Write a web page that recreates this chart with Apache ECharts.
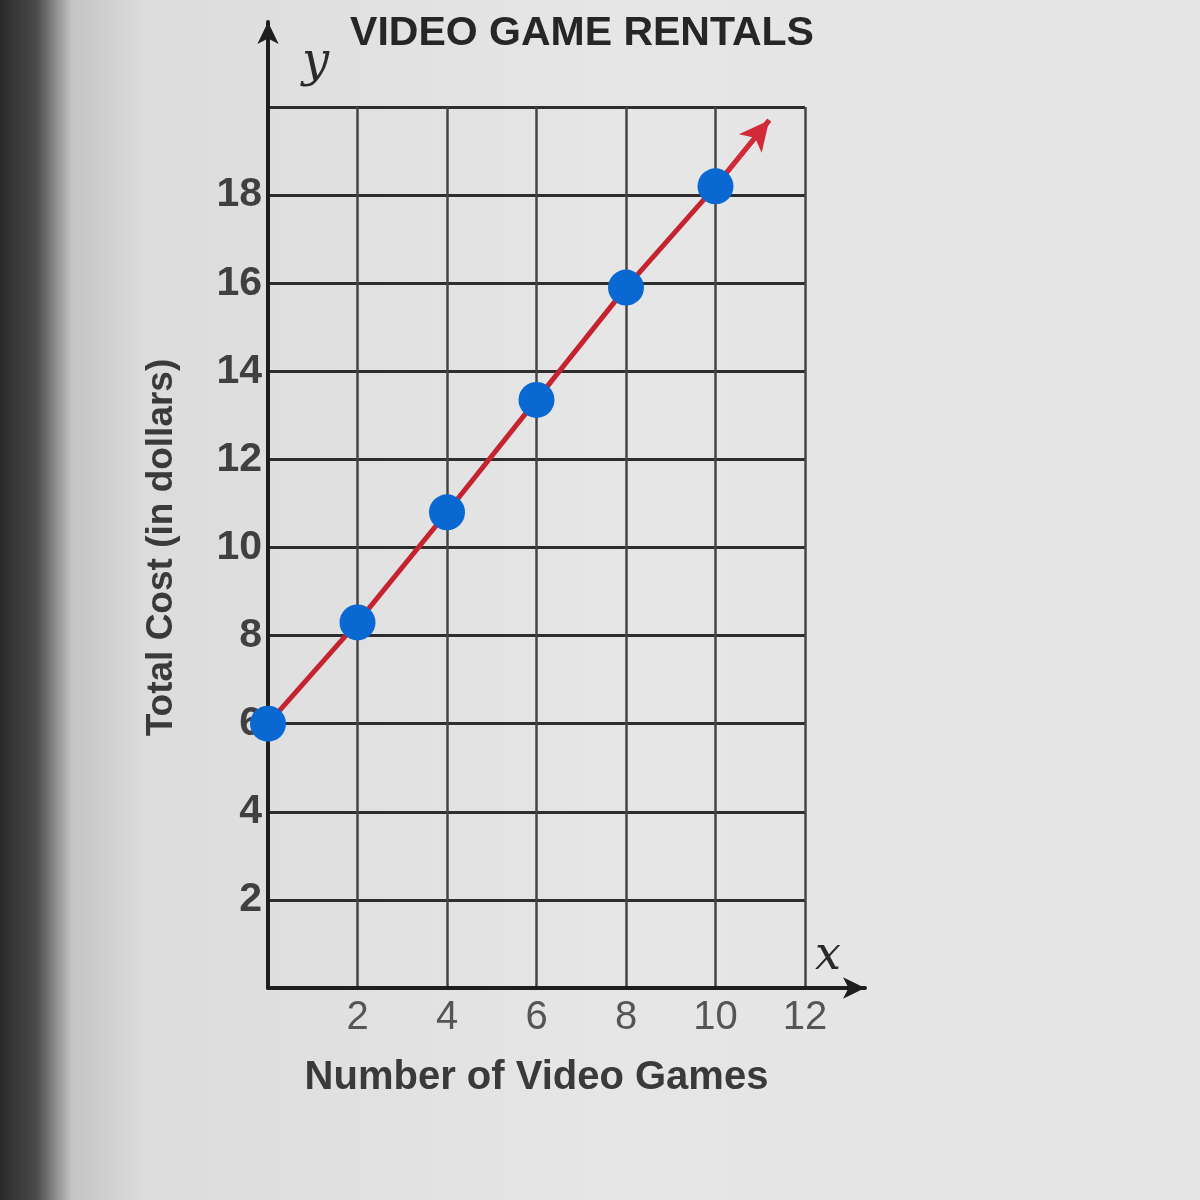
<!DOCTYPE html>
<html><head><meta charset="utf-8">
<script src="https://cdn.jsdelivr.net/npm/echarts@6/dist/echarts.min.js"></script>
<style>html,body{margin:0;padding:0;background:#e4e4e4}#c{width:1200px;height:1200px}</style>
</head><body><div id="c"></div>
<script>
const titleText = "VIDEO GAME RENTALS";
const xName = "Number of Video Games";
const yName = "Total Cost (in dollars)";
const games = [0, 2, 4, 6, 8, 10];
const cost = [6, 8.3, 10.8, 13.35, 15.9, 18.2];
const arrowTip = [11.2, 19.7];
const xTicks = [2, 4, 6, 8, 10, 12];
const yTicks = [2, 4, 6, 8, 10, 12, 14, 16, 18];

const pts = games.map((g, i) => [g, cost[i]]);
const linePts = pts.concat([arrowTip]);
const chart = echarts.init(document.getElementById('c'), null, {renderer: 'canvas'});
const FF = '"Liberation Sans", Arial, sans-serif';
chart.setOption({
  backgroundColor: {type: 'linear', x: 0, y: 0, x2: 1, y2: 0, colorStops: [
    {offset: 0, color: '#2a2a2a'}, {offset: 0.03, color: '#4a4a4a'}, {offset: 0.06, color: '#c4c4c4'},
    {offset: 0.12, color: '#dcdcdc'}, {offset: 0.5, color: '#e6e6e6'}, {offset: 1, color: '#e4e4e4'}]},
  animation: false,
  title: {text: titleText, left: 577, top: 8, textAlign: 'center',
    textStyle: {fontFamily: FF, fontWeight: 'bold', fontSize: 41, color: '#262626'}},
  grid: [
    {left: 268, top: 107, width: 537, height: 881},
    {left: 268, top: 22, width: 597, height: 966}
  ],
  xAxis: [
    {gridIndex: 0, type: 'value', min: 0, max: 12, interval: 2,
     axisLine: {show: false}, axisTick: {show: false},
     splitLine: {show: true, lineStyle: {color: '#444', width: 2.5}},
     axisLabel: {margin: 10, fontFamily: FF, fontSize: 40, color: '#555',
       formatter: v => xTicks.includes(v) ? String(v) : ''},
     name: xName, nameLocation: 'middle', nameGap: 70,
     nameTextStyle: {fontFamily: FF, fontWeight: 'bold', fontSize: 40, color: '#3a3a3a'}},
    {gridIndex: 1, type: 'value', min: 0, max: 13.35, interval: 2,
     axisLine: {show: true, symbol: ['none', 'arrow'], symbolSize: [16, 22], lineStyle: {color: '#1e1e1e', width: 4}},
     axisTick: {show: false}, splitLine: {show: false}, axisLabel: {show: false},
     name: 'x', nameLocation: 'end', nameGap: -24,
     nameTextStyle: {fontFamily: '"DejaVu Serif", "Liberation Serif", serif', fontStyle: 'italic', fontSize: 46, color: '#2a2a2a',
       align: 'right', verticalAlign: 'bottom', padding: [0, 0, 8, 0]}}
  ],
  yAxis: [
    {gridIndex: 0, type: 'value', min: 0, max: 20, interval: 2,
     axisLine: {show: false}, axisTick: {show: false},
     splitLine: {show: true, lineStyle: {color: '#2e2e2e', width: 3}},
     axisLabel: {margin: 6, fontFamily: FF, fontWeight: 'bold', fontSize: 41, color: '#404040',
       formatter: v => yTicks.includes(v) ? String(v) : ''},
     name: yName, nameLocation: 'middle', nameGap: 88, nameRotate: 90,
     nameTextStyle: {fontFamily: FF, fontWeight: 'bold', fontSize: 37, color: '#3a3a3a'}},
    {gridIndex: 1, type: 'value', min: 0, max: 21.9, interval: 2,
     axisLine: {show: true, symbol: ['none', 'arrow'], symbolSize: [16, 22], lineStyle: {color: '#1e1e1e', width: 4}},
     axisTick: {show: false}, splitLine: {show: false}, axisLabel: {show: false},
     name: 'y', nameLocation: 'end', nameGap: -66,
     nameTextStyle: {fontFamily: '"DejaVu Serif", "Liberation Serif", serif', fontStyle: 'italic', fontSize: 48, color: '#2a2a2a',
       align: 'left', verticalAlign: 'bottom', padding: [0, 0, 0, 34]}}
  ],
  series: [
    {type: 'line', xAxisIndex: 0, yAxisIndex: 0, data: linePts, showSymbol: false, symbol: 'none',
     lineStyle: {color: '#c4232f', width: 5}, z: 3,
     markLine: {silent: true, symbol: ['none', 'arrow'], symbolSize: [22, 30], label: {show: false},
       lineStyle: {color: '#d22a36', width: 5, type: 'solid'},
       data: [[{coord: pts[pts.length - 1]}, {coord: arrowTip}]]}},
    {type: 'scatter', xAxisIndex: 0, yAxisIndex: 0, data: pts, symbolSize: 36,
     itemStyle: {color: '#0a68d2', opacity: 1}, z: 5}
  ]
});
</script></body></html>
